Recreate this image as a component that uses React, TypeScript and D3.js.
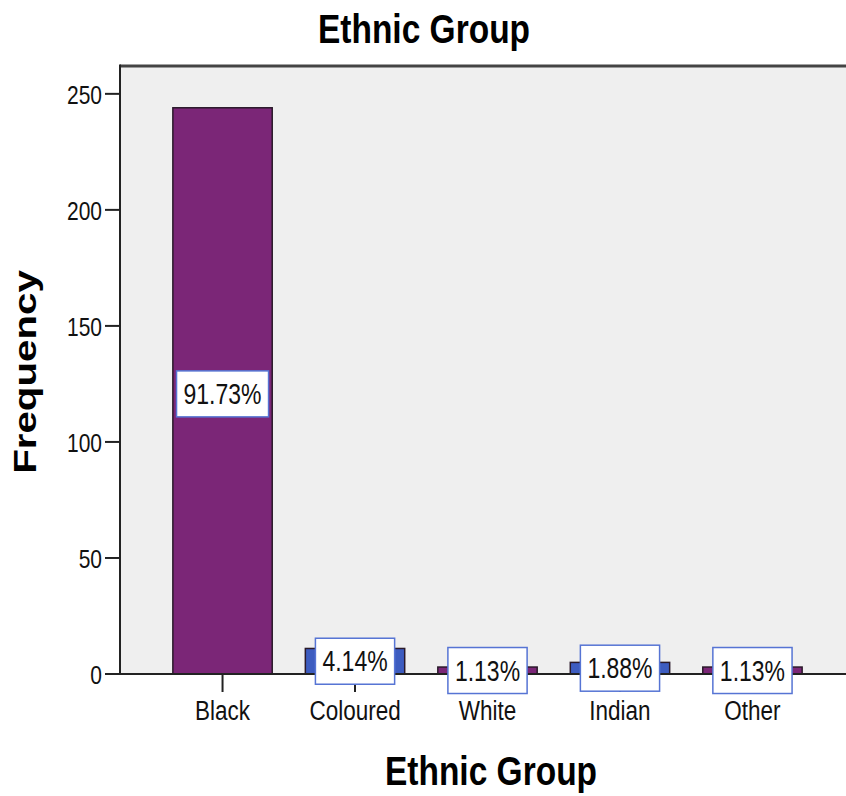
import React from "react";
import * as d3 from "d3";

const categories = ["Black", "Coloured", "White", "Indian", "Other"];
const frequencies = [244, 11, 3, 5, 3];
const yTicks = [0, 50, 100, 150, 200, 250];
const barColors = ["#7B2677", "#3D5CC0", "#7B2677", "#3D5CC0", "#7B2677"];

const W = 846;
const H = 796;
const SY = 1.2;
const FONT = "'Liberation Sans', Arial, sans-serif";

function measure(text: string, font: string): number {
  const c = document.createElement("canvas");
  const ctx = c.getContext("2d");
  if (!ctx) return text.length * 12;
  ctx.font = font;
  return ctx.measureText(text).width;
}

export default function App() {
  const left = 120;
  const top = 66;
  const bottom = 674;
  const x = d3.scaleBand<string>().domain(categories).range([left, 855]).paddingInner(0.25).paddingOuter(0.399);
  const y = d3.scaleLinear().domain([0, 262]).range([bottom, top]);
  const total = d3.sum(frequencies);

  return (
    <svg width={W} height={H} style={{ position: "absolute", left: 0, top: 0, background: "#fff" }} fontFamily={FONT}>
      {/* plot background */}
      <rect x={left} y={top} width={W - left} height={bottom - top} fill="#EFEFEF" />
      {/* title */}
      <text transform={`translate(424,43) scale(1,${SY})`} textAnchor="middle" fontSize={33.5} fontWeight="bold" fill="#000">
        Ethnic Group
      </text>
      {/* x ticks */}
      {categories.map((c) => (
        <line key={"xt" + c} x1={x(c)! + x.bandwidth() / 2} x2={x(c)! + x.bandwidth() / 2} y1={bottom} y2={692} stroke="#222" strokeWidth={2} />
      ))}
      {/* bars */}
      {categories.map((c, i) => (
        <rect
          key={"b" + c}
          x={x(c)!}
          y={y(frequencies[i])}
          width={x.bandwidth()}
          height={bottom - y(frequencies[i])}
          fill={barColors[i]}
          stroke="#2a1a2a"
          strokeWidth={1.5}
        />
      ))}
      {/* frame lines */}
      <line x1={left} x2={W} y1={top} y2={top} stroke="#444" strokeWidth={3} />
      <line x1={left} x2={left} y1={top - 1.5} y2={bottom} stroke="#222" strokeWidth={2} />
      <line x1={left} x2={W} y1={bottom} y2={bottom} stroke="#222" strokeWidth={2} />
      {/* y ticks */}
      {yTicks.map((t) => (
        <g key={"yt" + t}>
          <line x1={105} x2={left} y1={y(t)} y2={y(t)} stroke="#222" strokeWidth={2} />
          <text transform={`translate(102,${y(t) + 10}) scale(1,${SY})`} textAnchor="end" fontSize={21} fill="#111">
            {t}
          </text>
        </g>
      ))}
      {/* x tick labels */}
      {categories.map((c) => (
        <text key={"xl" + c} transform={`translate(${x(c)! + x.bandwidth() / 2},720) scale(1,${SY})`} textAnchor="middle" fontSize={22.5} fill="#111">
          {c}
        </text>
      ))}
      {/* value labels */}
      {categories.map((c, i) => {
        const label = ((frequencies[i] / total) * 100).toFixed(2) + "%";
        const tw = measure(label, `23px ${FONT}`);
        const bw = tw + 14;
        const bh = 46;
        const cx = x(c)! + x.bandwidth() / 2;
        const cy = (y(frequencies[i]) + bottom) / 2 + (i === 0 ? 3 : 0);
        return (
          <g key={"vl" + c}>
            <rect x={cx - bw / 2} y={cy - bh / 2} width={bw} height={bh} fill="#fff" stroke="#5674D4" strokeWidth={1.5} />
            <text transform={`translate(${cx},${cy + 10}) scale(1,1.25)`} textAnchor="middle" fontSize={23} fill="#111">
              {label}
            </text>
          </g>
        );
      })}
      {/* axis titles */}
      <text transform={`translate(491,785) scale(1,${SY})`} textAnchor="middle" fontSize={33.5} fontWeight="bold" fill="#000">
        Ethnic Group
      </text>
      <text transform={`translate(36,372) rotate(-90) scale(1.3,1)`} textAnchor="middle" fontSize={31} fontWeight="bold" fill="#000">
        Frequency
      </text>
    </svg>
  );
}
